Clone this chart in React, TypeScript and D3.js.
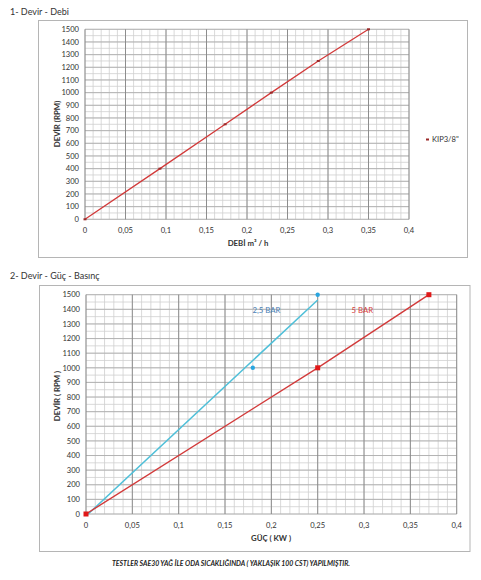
import * as d3 from "d3";

// 1- Devir - Debi (KIP3/8")
const debi = [0, 0.0925, 0.173, 0.23, 0.288, 0.35];
const devirDebi = [0, 400, 750, 1000, 1250, 1500];

// 2- Devir - Güç - Basınç
const guc25 = [0, 0.18, 0.25];
const devir25 = [0, 1000, 1500];
const guc5 = [0, 0.25, 0.37];
const devir5 = [0, 1000, 1500];

const FONT = "Lato, 'Open Sans', sans-serif";
const fmt = (d: number) => String(+d.toFixed(3)).replace(".", ",");

type Box = { x0: number; x1: number; y0: number; y1: number };

function Grid({ x, y }: { x: d3.ScaleLinear<number, number>; y: d3.ScaleLinear<number, number> }) {
  const [xa, xb] = x.range();
  const [ya, yb] = y.range();
  return (
    <g>
      {y.ticks(30).map((t) => (
        <line key={"hy" + t} x1={xa} x2={xb} y1={y(t)} y2={y(t)} stroke="#d0d0d0" strokeWidth={0.8} />
      ))}
      {x.ticks(40).map((t) => (
        <line key={"mx" + t} x1={x(t)} x2={x(t)} y1={ya} y2={yb} stroke="#cfcfcf" strokeWidth={0.8} />
      ))}
      {y.ticks(15).map((t) => (
        <line key={"My" + t} x1={xa} x2={xb} y1={y(t)} y2={y(t)} stroke="#a9a9a9" strokeWidth={0.8} />
      ))}
      {x.ticks(8).map((t) => (
        <line key={"Mx" + t} x1={x(t)} x2={x(t)} y1={ya} y2={yb} stroke="#858585" strokeWidth={0.9} />
      ))}
    </g>
  );
}

function Ticks({ x, y, xLabelY }: { x: d3.ScaleLinear<number, number>; y: d3.ScaleLinear<number, number>; xLabelY: number }) {
  const xa = x.range()[0];
  return (
    <g fontFamily={FONT} fontSize={7.6} fill="#333">
      {y.ticks(15).map((t) => (
        <text key={"ty" + t} x={xa - 6} y={y(t) + 2.7} textAnchor="end">{t}</text>
      ))}
      {x.ticks(8).map((t) => (
        <text key={"tx" + t} x={x(t)} y={xLabelY} textAnchor="middle">{fmt(t)}</text>
      ))}
    </g>
  );
}

function Frame({ b }: { b: Box }) {
  return <rect x={b.x0} y={b.y0} width={b.x1 - b.x0} height={b.y1 - b.y0} fill="#fff" stroke="#b5b5b5" strokeWidth={1} />;
}

function fit(xs: number[], ys: number[]) {
  const mx = d3.mean(xs)!;
  const my = d3.mean(ys)!;
  const sxy = d3.sum(xs, (v, i) => (v - mx) * (ys[i] - my));
  const sxx = d3.sum(xs, (v) => (v - mx) ** 2);
  const slope = sxy / sxx;
  return { slope, icpt: my - slope * mx };
}

export default function App() {
  // chart 1
  const x1 = d3.scaleLinear().domain([0, 0.4]).range([85, 409]);
  const y1 = d3.scaleLinear().domain([0, 1500]).range([219.3, 29.3]);
  const box1: Box = { x0: 38.5, x1: 467.5, y0: 20.5, y1: 257.5 };
  const pts1 = debi.map((d, i) => [d, devirDebi[i]] as [number, number]);
  const line1 = d3.line<[number, number]>().x((d) => x1(d[0])).y((d) => y1(d[1]));

  // chart 2
  const x2 = d3.scaleLinear().domain([0, 0.4]).range([86, 456.7]);
  const y2 = d3.scaleLinear().domain([0, 1500]).range([514, 294.7]);
  const box2: Box = { x0: 39.5, x1: 470, y0: 285.5, y1: 551.5 };
  const pts5 = guc5.map((d, i) => [d, devir5[i]] as [number, number]);
  const line2 = d3.line<[number, number]>().x((d) => x2(d[0])).y((d) => y2(d[1]));
  const tr = fit(guc25, devir25);
  const xStart = Math.max(0, -tr.icpt / tr.slope);
  const xEnd = d3.max(guc25)!;
  const trend: [number, number][] = [
    [xStart, tr.slope * xStart + tr.icpt],
    [xEnd, tr.slope * xEnd + tr.icpt],
  ];

  return (
    <svg width={481} height={580} style={{ position: "absolute", left: 0, top: 0, background: "#fff" }}>
      <rect width={481} height={580} fill="#fff" />
      <text x={10} y={15} fontFamily={FONT} fontSize={9} fill="#333">1- Devir - Debi</text>
      <Frame b={box1} />
      <Grid x={x1} y={y1} />
      <Ticks x={x1} y={y1} xLabelY={232.5} />
      <path d={line1(pts1) ?? ""} fill="none" stroke="#d23a3a" strokeWidth={1.3} />
      {pts1.map((p, i) => (
        <rect key={i} x={x1(p[0]) - 1.5} y={y1(p[1]) - 1} width={3} height={2} fill="#9b2a2a" />
      ))}
      <rect x={426} y={138.5} width={3} height={2} fill="#9b2a2a" />
      <text x={432} y={142} fontFamily={FONT} fontSize={7.6} fill="#333">KIP3/8"</text>
      <text x={248} y={245.5} textAnchor="middle" fontFamily={FONT} fontSize={7.8} fontWeight="bold" fill="#333">DEBİ m³ / h</text>
      <text transform={`translate(60,124) rotate(-90)`} textAnchor="middle" fontFamily={FONT} fontSize={7.8} fontWeight="bold" fill="#333">DEVİR (RPM)</text>

      <text x={10} y={279} fontFamily={FONT} fontSize={9} fill="#333">2- Devir - Güç - Basınç</text>
      <Frame b={box2} />
      <Grid x={x2} y={y2} />
      <Ticks x={x2} y={y2} xLabelY={528} />
      <path d={line2(trend) ?? ""} fill="none" stroke="#4fbfd8" strokeWidth={1.5} />
      {guc25.slice(1).map((g, i) => (
        <circle key={i} cx={x2(g)} cy={y2(devir25[i + 1])} r={2.2} fill="#2aa6e0" />
      ))}
      <path d={line2(pts5) ?? ""} fill="none" stroke="#d23a3a" strokeWidth={1.4} />
      {pts5.map((p, i) => (
        <rect key={i} x={x2(p[0]) - 2.5} y={y2(p[1]) - 2.5} width={5} height={5} fill="#e01818" />
      ))}
      <text x={252.5} y={313} fontFamily={FONT} fontSize={7.8} fill="#4a80b4">2,5 BAR</text>
      <text x={351.5} y={313} fontFamily={FONT} fontSize={7.8} fill="#d84040">5 BAR</text>
      <text x={271} y={540.5} textAnchor="middle" fontFamily={FONT} fontSize={7.8} fontWeight="bold" fill="#333">GÜÇ ( KW )</text>
      <text transform={`translate(60,396) rotate(-90)`} textAnchor="middle" fontFamily={FONT} fontSize={7.8} fontWeight="bold" fill="#333">DEVİR ( RPM )</text>

      <text x={231} y={566} textAnchor="middle" fontFamily={FONT} fontSize={6.8} fontWeight="bold" fontStyle="italic" fill="#222" textLength={238} lengthAdjust="spacingAndGlyphs">
        TESTLER SAE30 YAĞ İLE ODA SICAKLIĞINDA ( YAKLAŞIK 100 CST) YAPILMIŞTIR.
      </text>
    </svg>
  );
}
